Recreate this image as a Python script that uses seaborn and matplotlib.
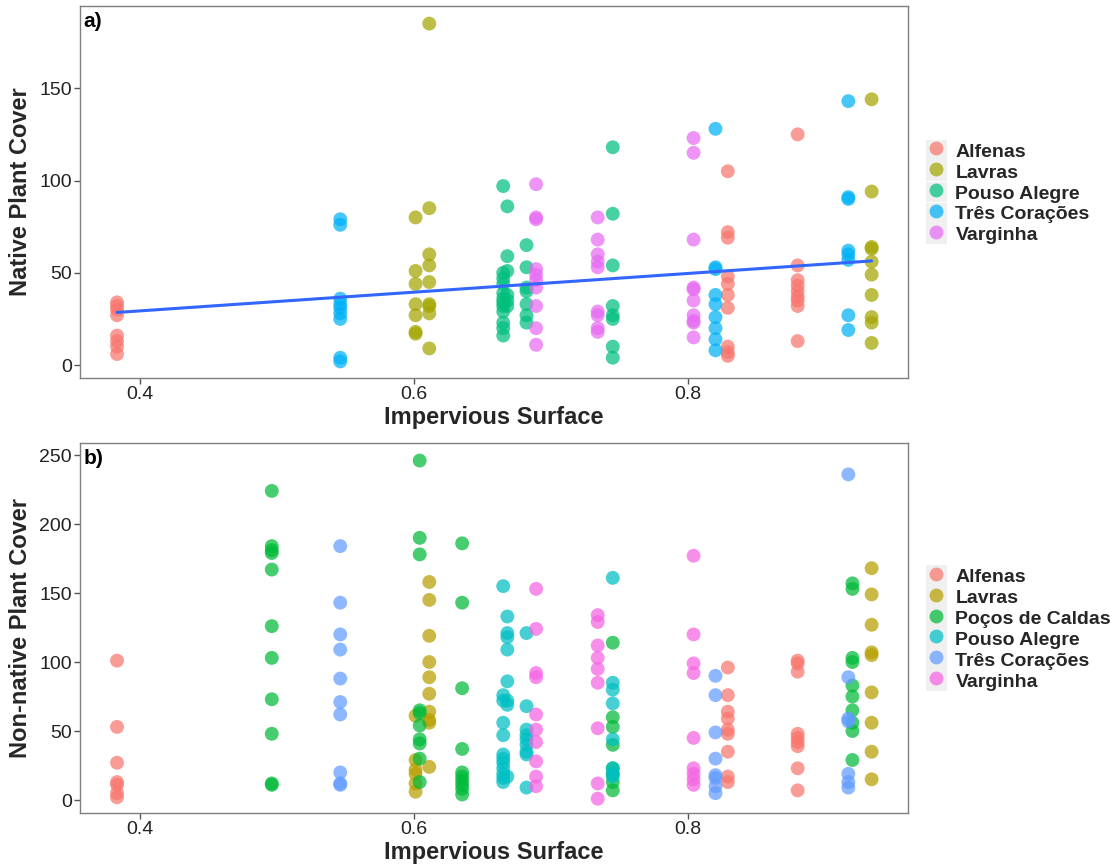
import numpy as np
import pandas as pd
import matplotlib
matplotlib.use("Agg")
import matplotlib.pyplot as plt
import seaborn as sns
from matplotlib.patches import Patch
from matplotlib.lines import Line2D

sns.set_theme(style="white")
plt.rcParams["font.family"] = ["Liberation Sans", "DejaVu Sans"]

# ---------------- Panel a: Native plant cover ----------------
a_cities = ["Alfenas", "Lavras", "Pouso Alegre", "Três Corações", "Varginha"]
a_colors = ["#F8766D", "#A3A500", "#00BF7D", "#00B0F6", "#E76BF3"]

a_alfenas = {0.383: [34, 32, 30, 27, 16, 13, 10, 6],
             0.829: [105, 72, 69, 48, 44, 38, 31, 10, 7, 5],
             0.880: [125, 54, 46, 43, 40, 37, 35, 32, 13]}
a_lavras = {0.601: [80, 51, 44, 33, 27, 18, 17],
            0.611: [185, 85, 60, 54, 45, 33, 32, 28, 9],
            0.934: [144, 94, 64, 63, 56, 49, 38, 26, 23, 12]}
a_pouso = {0.665: [97, 50, 47, 44, 39, 36, 34, 32, 29, 23, 20, 16],
           0.668: [86, 59, 51, 38, 35, 32],
           0.682: [65, 53, 42, 40, 33, 27, 23],
           0.745: [118, 82, 54, 32, 27, 25, 10, 4]}
a_tres = {0.546: [79, 76, 36, 33, 31, 28, 25, 4, 2],
          0.820: [128, 53, 52, 38, 33, 26, 20, 14, 8],
          0.917: [143, 91, 90, 62, 60, 57, 27, 19]}
a_varginha = {0.689: [98, 80, 79, 52, 49, 46, 42, 32, 20, 11],
              0.734: [80, 68, 60, 56, 53, 29, 27, 20, 18],
              0.804: [123, 115, 68, 42, 41, 35, 27, 24, 23, 15]}

# ---------------- Panel b: Non-native plant cover ----------------
b_cities = ["Alfenas", "Lavras", "Poços de Caldas", "Pouso Alegre", "Três Corações", "Varginha"]
b_colors = ["#F8766D", "#B79F00", "#00BA38", "#00BFC4", "#619CFF", "#F564E3"]

b_alfenas = {0.383: [101, 53, 27, 13, 11, 5, 2],
             0.829: [96, 76, 64, 59, 51, 48, 35, 17, 13],
             0.880: [101, 99, 93, 48, 45, 42, 39, 23, 7]}
b_lavras = {0.601: [61, 29, 22, 19, 12, 6],
            0.611: [158, 145, 119, 100, 89, 77, 64, 58, 56, 24],
            0.934: [168, 149, 127, 107, 105, 78, 56, 35, 15]}
b_pocos = {0.496: [224, 184, 181, 179, 167, 126, 103, 73, 48, 12, 11],
           0.604: [246, 190, 178, 65, 63, 54, 44, 41, 30, 13],
           0.635: [186, 143, 81, 37, 20, 17, 14, 11, 8, 4],
           0.745: [114, 60, 53, 40, 23, 19, 13, 7],
           0.920: [157, 153, 103, 100, 83, 75, 65, 56, 50, 29]}
b_pouso = {0.665: [155, 76, 72, 56, 47, 33, 30, 27, 23, 19, 16, 13],
           0.668: [133, 121, 118, 109, 86, 72, 69, 17],
           0.682: [121, 68, 51, 47, 44, 40, 35, 33, 9],
           0.745: [161, 85, 80, 70, 44, 23, 19, 17]}
b_tres = {0.546: [184, 143, 120, 109, 88, 71, 62, 20, 12, 11],
          0.820: [90, 76, 49, 30, 18, 16, 10, 5],
          0.917: [236, 89, 59, 57, 19, 13, 9]}
b_varginha = {0.689: [153, 124, 92, 89, 62, 51, 42, 28, 17, 10],
              0.734: [134, 129, 112, 103, 95, 85, 52, 12, 1],
              0.804: [177, 120, 99, 92, 45, 23, 19, 15, 11]}

x_ticks = [0.4, 0.6, 0.8]
a_yticks = [0, 50, 100, 150]
b_yticks = [0, 50, 100, 150, 200, 250]


def to_frame(names, groups):
    rows = []
    for name, grp in zip(names, groups):
        for xv, ys in grp.items():
            for yv in ys:
                rows.append((name, xv, yv))
    return pd.DataFrame(rows, columns=["city", "x", "y"])


df_a = to_frame(a_cities, [a_alfenas, a_lavras, a_pouso, a_tres, a_varginha])
df_b = to_frame(b_cities, [b_alfenas, b_lavras, b_pocos, b_pouso, b_tres, b_varginha])

fig = plt.figure(figsize=(11.18, 8.67), dpi=100)
ax1 = fig.add_axes([0.0716, 0.564, 0.7406, 0.429])
ax2 = fig.add_axes([0.0716, 0.0623, 0.7406, 0.4267])

ALPHA = 0.72
SIZE = 100

sns.scatterplot(data=df_a, x="x", y="y", hue="city", hue_order=a_cities,
                palette=a_colors, s=SIZE, alpha=ALPHA, edgecolor="none",
                legend=False, ax=ax1, zorder=2)
sns.regplot(data=df_a, x="x", y="y", scatter=False, ci=None, color="#3366FF",
            line_kws={"lw": 2.2, "zorder": 3}, ax=ax1)
sns.scatterplot(data=df_b, x="x", y="y", hue="city", hue_order=b_cities,
                palette=b_colors, s=SIZE, alpha=ALPHA, edgecolor="none",
                legend=False, ax=ax2, zorder=2)

panels = [(ax1, "Native Plant Cover", a_yticks, (-7, 194.5), "a)", a_cities, a_colors),
          (ax2, "Non-native Plant Cover", b_yticks, (-9.4, 258.7), "b)", b_cities, b_colors)]

for ax, ylab, yt, ylim, tag, names, cols in panels:
    ax.set_xlim(0.356, 0.9606)
    ax.set_ylim(*ylim)
    ax.set_xticks(x_ticks)
    ax.set_xticklabels([f"{t:.1f}" for t in x_ticks])
    ax.set_yticks(yt)
    ax.set_xlabel("Impervious Surface", fontsize=17, fontweight="bold", labelpad=2)
    ax.set_ylabel(ylab, fontsize=17, fontweight="bold", labelpad=5)
    ax.tick_params(axis="both", labelsize=14, length=4, width=1, color="#555555",
                   labelcolor="#222222", direction="out", bottom=True, left=True, pad=2)
    for sp in ax.spines.values():
        sp.set_color("#7F7F7F")
        sp.set_linewidth(1)
    ax.grid(False)
    ax.text(0.004, 0.985, tag, transform=ax.transAxes, ha="left", va="top",
            fontsize=15, fontweight="bold", color="black")
    handles = [(Patch(facecolor="#F0F0F0", edgecolor="none"),
                Line2D([], [], ls="", marker="o", markersize=10, color=c,
                       markeredgecolor="none", alpha=ALPHA)) for c in cols]
    ax.legend(handles, names, loc="center left", bbox_to_anchor=(1.022, 0.5),
              frameon=False, prop={"weight": "bold", "size": 14},
              handlelength=1.05, handleheight=1.27, labelspacing=0.0,
              handletextpad=0.45, borderpad=0, borderaxespad=0)

fig.savefig("out.png", dpi=100)
